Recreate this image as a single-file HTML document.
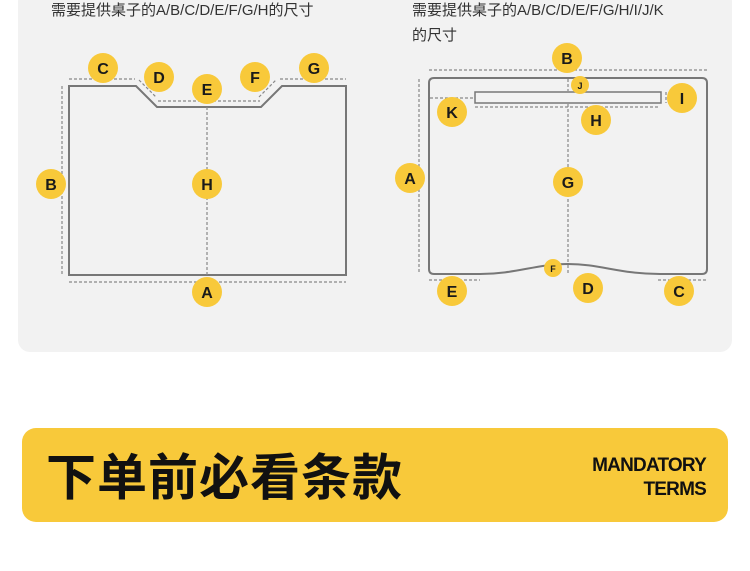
<!DOCTYPE html>
<html><head><meta charset="utf-8"><style>
body{margin:0;width:750px;height:571px;background:#fff;position:relative;overflow:hidden;font-family:"Liberation Sans","Noto Sans CJK SC",sans-serif}
.panel{position:absolute;left:18px;top:-10px;width:714px;height:362px;background:#f2f2f2;border-radius:12px}
.banner{position:absolute;left:22px;top:428px;width:706px;height:94px;background:#f8c93a;border-radius:14px}
.big{position:absolute;left:24px;top:16px;font-size:50px;font-weight:bold;color:#111;letter-spacing:1px;font-family:"Noto Sans CJK SC",sans-serif;line-height:60px}
.en{position:absolute;right:22px;top:26px;text-align:right;font-size:19px;font-weight:bold;line-height:24px;color:#111;letter-spacing:-0.8px}
svg{position:absolute;left:0;top:0}
</style></head><body>
<div class="panel"></div>
<svg width="750" height="360" font-family="Liberation Sans, Noto Sans CJK SC, sans-serif">
<g fill="#333" font-size="15">
<text x="51" y="15">需要提供桌子的A/B/C/D/E/F/G/H的尺寸</text>
<text x="412" y="15">需要提供桌子的A/B/C/D/E/F/G/H/I/J/K</text>
<text x="412" y="40">的尺寸</text>
</g>
<g fill="none" stroke="#777" stroke-width="2">
<path d="M69 86 H136 L157 107 H261 L282 86 H346 V275 H69 Z"/>
<path d="M434 78 H702 Q707 78 707 83 V269 Q707 274 702 274 H660 C620 274 600 264 568 264 C536 264 516 274 480 274 H434 Q429 274 429 269 V83 Q429 78 434 78 Z"/>
<rect x="475" y="92" width="186" height="11" stroke-width="1.5"/>
</g>
<g fill="none" stroke="#888" stroke-width="1.2" stroke-dasharray="3 2">
<path d="M69 79 H135 M280 79 H346 M158 101 H260 M62 86 V275 M69 282 H346 M207 107 V275 M139 80 L156 97 M259 97 L276 80"/>
<path d="M429 70 H707 M419 79 V273 M568 79 V91 M430 98 H473 M666 92 V103 M475 107 H660 M568 104 V263 M429 280 H480 M658 280 H707 M568 265 V273"/>
</g>
<g fill="#f8c93a">
<circle cx="103" cy="68" r="15"/><circle cx="159" cy="77" r="15"/><circle cx="207" cy="89" r="15"/><circle cx="255" cy="77" r="15"/><circle cx="314" cy="68" r="15"/><circle cx="51" cy="184" r="15"/><circle cx="207" cy="184" r="15"/><circle cx="207" cy="292" r="15"/>
<circle cx="567" cy="58" r="15"/><circle cx="580" cy="85" r="9"/><circle cx="682" cy="98" r="15"/><circle cx="452" cy="112" r="15"/><circle cx="596" cy="120" r="15"/><circle cx="410" cy="178" r="15"/><circle cx="568" cy="182" r="15"/><circle cx="553" cy="268" r="9"/><circle cx="588" cy="288" r="15"/><circle cx="452" cy="291" r="15"/><circle cx="679" cy="291" r="15"/>
</g>
<g fill="#1a1a1a" font-size="16" font-weight="bold" text-anchor="middle">
<text x="103" y="74">C</text><text x="159" y="83">D</text><text x="207" y="95">E</text><text x="255" y="83">F</text><text x="314" y="74">G</text><text x="51" y="190">B</text><text x="207" y="190">H</text><text x="207" y="298">A</text>
<text x="567" y="64">B</text><text x="682" y="104">I</text><text x="452" y="118">K</text><text x="596" y="126">H</text><text x="410" y="184">A</text><text x="568" y="188">G</text><text x="588" y="294">D</text><text x="452" y="297">E</text><text x="679" y="297">C</text>
<text x="580" y="89" font-size="9">J</text><text x="553" y="272" font-size="9">F</text>
</g>
</svg>
<div class="banner"><div class="big">下单前必看条款</div><div class="en">MANDATORY<br>TERMS</div></div>
</body></html>
